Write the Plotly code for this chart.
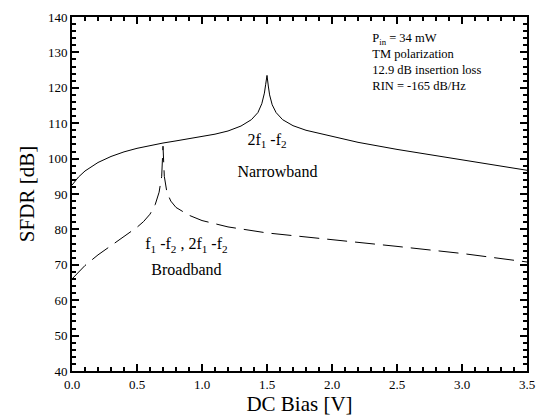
import plotly.graph_objects as go

# Narrowband (solid) 2f1-f2
nb_x = [0, 0.05, 0.1, 0.2, 0.3, 0.4, 0.5, 0.6, 0.7, 0.8, 0.9, 1.0, 1.1, 1.2, 1.3, 1.38, 1.43,
        1.46, 1.48, 1.49, 1.5, 1.51, 1.52, 1.54, 1.57, 1.62, 1.7, 1.8, 2.0, 2.2, 2.5, 2.8, 3.1, 3.5]
nb_y = [92.5, 94.8, 96.5, 98.9, 100.6, 101.9, 102.9, 103.7, 104.4, 105.0, 105.6, 106.2, 106.9,
        107.8, 109.2, 111.0, 113.0, 115.5, 118.5, 121.0, 123.5, 120.5, 118.0, 115.2, 113.0, 111.0,
        109.3, 108.0, 106.2, 104.6, 102.6, 100.8, 99.0, 96.7]

# Broadband (dashed) f1-f2, 2f1-f2
bb_x = [0, 0.1, 0.2, 0.3, 0.4, 0.5, 0.55, 0.6, 0.64, 0.67, 0.69, 0.7, 0.71, 0.73, 0.76, 0.8,
        0.9, 1.0, 1.2, 1.5, 2.0, 2.5, 3.0, 3.5]
bb_y = [66.0, 69.8, 72.8, 75.5, 78.0, 80.6, 82.2, 84.3, 87.0, 90.5, 95.0, 103.5, 95.0, 90.5,
        88.0, 86.2, 84.0, 82.5, 80.7, 79.0, 77.2, 75.2, 73.2, 70.8]

# Curve labels (centred)
label_text = ["2f<sub>1</sub> -f<sub>2</sub>", "Narrowband",
              "f<sub>1</sub> -f<sub>2</sub> , 2f<sub>1</sub> -f<sub>2</sub>", "Broadband"]
label_x = [1.5, 1.58, 0.88, 0.88]
label_y = [105, 96, 75.5, 68.2]

# Conditions block (left aligned)
info_text = ["P<sub>in</sub> = 34 mW", "TM polarization", "12.9 dB insertion loss",
             "RIN = -165 dB/Hz"]
info_x = [2.31, 2.31, 2.31, 2.31]
info_y = [133.7, 129.2, 124.7, 120.2]

x_range = [0, 3.5]
y_range = [40, 140]

FONT = "Liberation Serif"

fig = go.Figure()
fig.add_trace(go.Scatter(x=nb_x, y=nb_y, mode="lines",
                         line=dict(color="black", width=1)))
fig.add_trace(go.Scatter(x=bb_x, y=bb_y, mode="lines",
                         line=dict(color="black", width=1, dash="20px,8px")))
fig.add_trace(go.Scatter(x=label_x, y=label_y, mode="text", text=label_text,
                         textposition="middle center",
                         textfont=dict(family=FONT, size=16, color="black"), hoverinfo="skip"))
fig.add_trace(go.Scatter(x=info_x, y=info_y, mode="text", text=info_text,
                         textposition="middle right",
                         textfont=dict(family=FONT, size=12.5, color="black"), hoverinfo="skip"))

fig.update_layout(template="simple_white", width=545, height=416, showlegend=False,
                  margin=dict(l=72, r=10, t=17, b=41))

base = dict(ticks="inside", ticklen=7, tickcolor="black", tickwidth=2, mirror="ticks",
            showline=True, linewidth=2, linecolor="black")

fig.update_xaxes(range=x_range, dtick=0.5, tickformat=".1f",
                 tickfont=dict(family=FONT, size=13, color="black"),
                 minor=dict(ticks="inside", ticklen=4, tickcolor="black", dtick=0.1),
                 title=dict(text="DC Bias [V]", font=dict(family=FONT, size=21, color="black"),
                            standoff=0),
                 **base)
fig.update_yaxes(range=y_range, dtick=10,
                 tickfont=dict(family=FONT, size=13, color="black"),
                 minor=dict(ticks="inside", ticklen=4, tickcolor="black", dtick=2),
                 title=dict(text="SFDR [dB]", font=dict(family=FONT, size=21, color="black"),
                            standoff=8),
                 **base)

fig.write_html("out.html")
